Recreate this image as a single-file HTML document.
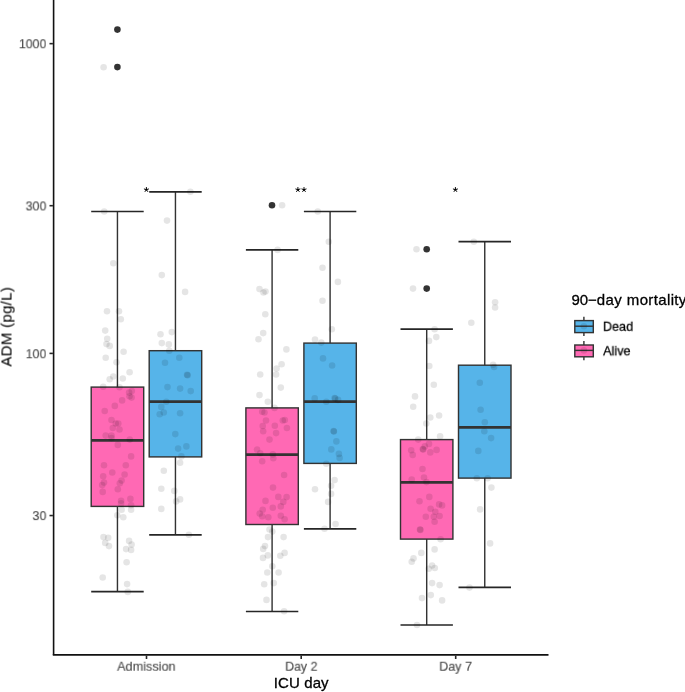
<!DOCTYPE html>
<html><head><meta charset="utf-8"><title>ADM boxplot</title>
<style>
html,body{margin:0;padding:0;background:#fff;}
body{width:685px;height:692px;position:relative;overflow:hidden;font-family:"Liberation Sans",sans-serif;}
.t{position:absolute;white-space:nowrap;line-height:1;will-change:transform;-webkit-text-stroke:0.3px currentColor;}
</style></head><body>
<svg width="685" height="692" viewBox="0 0 685 692" style="position:absolute;left:0;top:0">
<rect width="685" height="692" fill="#fff"/>
<path d="M117.45 211.5V591.6" stroke="#333333" stroke-width="1.42" fill="none"/>
<path d="M91.20 211.5H143.70M91.20 591.6H143.70" stroke="#262626" stroke-width="1.7" fill="none"/>
<path d="M175.45 191.9V534.8" stroke="#333333" stroke-width="1.42" fill="none"/>
<path d="M149.20 191.9H201.70M149.20 534.8H201.70" stroke="#262626" stroke-width="1.7" fill="none"/>
<path d="M272.10 249.9V611.5" stroke="#333333" stroke-width="1.42" fill="none"/>
<path d="M245.90 249.9H298.30M245.90 611.5H298.30" stroke="#262626" stroke-width="1.7" fill="none"/>
<path d="M330.10 211.5V528.8" stroke="#333333" stroke-width="1.42" fill="none"/>
<path d="M303.90 211.5H356.30M303.90 528.8H356.30" stroke="#262626" stroke-width="1.7" fill="none"/>
<path d="M426.70 329.1V625.0" stroke="#333333" stroke-width="1.42" fill="none"/>
<path d="M400.50 329.1H452.90M400.50 625.0H452.90" stroke="#262626" stroke-width="1.7" fill="none"/>
<path d="M484.75 241.7V587.3" stroke="#333333" stroke-width="1.42" fill="none"/>
<path d="M458.50 241.7H511.00M458.50 587.3H511.00" stroke="#262626" stroke-width="1.7" fill="none"/>
<rect x="91.2" y="387.1" width="52.50" height="119.30" fill="#FF69B4" stroke="#333333" stroke-width="1.42" stroke-linejoin="miter"/>
<path d="M91.2 440.4H143.7" stroke="#333333" stroke-width="2.84"/>
<rect x="149.2" y="350.7" width="52.50" height="106.20" fill="#56B4E9" stroke="#333333" stroke-width="1.42" stroke-linejoin="miter"/>
<path d="M149.2 401.7H201.7" stroke="#333333" stroke-width="2.84"/>
<rect x="245.9" y="407.9" width="52.40" height="116.60" fill="#FF69B4" stroke="#333333" stroke-width="1.42" stroke-linejoin="miter"/>
<path d="M245.9 454.6H298.3" stroke="#333333" stroke-width="2.84"/>
<rect x="303.9" y="343.1" width="52.40" height="120.30" fill="#56B4E9" stroke="#333333" stroke-width="1.42" stroke-linejoin="miter"/>
<path d="M303.9 401.65H356.3" stroke="#333333" stroke-width="2.84"/>
<rect x="400.5" y="439.6" width="52.40" height="99.50" fill="#FF69B4" stroke="#333333" stroke-width="1.42" stroke-linejoin="miter"/>
<path d="M400.5 482.4H452.9" stroke="#333333" stroke-width="2.84"/>
<rect x="458.5" y="365.2" width="52.50" height="112.90" fill="#56B4E9" stroke="#333333" stroke-width="1.42" stroke-linejoin="miter"/>
<path d="M458.5 427.3H511.0" stroke="#333333" stroke-width="2.84"/>
<circle cx="117.4" cy="29.6" r="3.3" fill="#333333"/>
<circle cx="117.4" cy="67.1" r="3.3" fill="#333333"/>
<circle cx="272.0" cy="205.2" r="3.3" fill="#333333"/>
<circle cx="426.7" cy="249.2" r="3.3" fill="#333333"/>
<circle cx="426.7" cy="288.6" r="3.3" fill="#333333"/>
<g fill="#000" fill-opacity="0.1">
<circle cx="103.6" cy="67.2" r="3.3"/>
<circle cx="104.2" cy="211.5" r="3.3"/>
<circle cx="113.3" cy="263.3" r="3.3"/>
<circle cx="107.0" cy="311.3" r="3.3"/>
<circle cx="119.0" cy="311.3" r="3.3"/>
<circle cx="120.8" cy="319.3" r="3.3"/>
<circle cx="105.2" cy="330.6" r="3.3"/>
<circle cx="107.2" cy="338.8" r="3.3"/>
<circle cx="106.5" cy="344.1" r="3.3"/>
<circle cx="109.7" cy="345.9" r="3.3"/>
<circle cx="123.6" cy="351.7" r="3.3"/>
<circle cx="105.7" cy="357.7" r="3.3"/>
<circle cx="116.5" cy="362.2" r="3.3"/>
<circle cx="129.6" cy="372.3" r="3.3"/>
<circle cx="113.3" cy="376.5" r="3.3"/>
<circle cx="109.7" cy="379.3" r="3.3"/>
<circle cx="122.8" cy="378.5" r="3.3"/>
<circle cx="103.2" cy="386.8" r="3.3"/>
<circle cx="119.5" cy="387.3" r="3.3"/>
<circle cx="129.1" cy="392.6" r="3.3"/>
<circle cx="131.6" cy="397.6" r="3.3"/>
<circle cx="131.8" cy="391.1" r="3.3"/>
<circle cx="129.5" cy="396.3" r="3.3"/>
<circle cx="122.1" cy="400.4" r="3.3"/>
<circle cx="114.8" cy="405.9" r="3.3"/>
<circle cx="104.7" cy="411" r="3.3"/>
<circle cx="111.5" cy="420" r="3.3"/>
<circle cx="115.8" cy="423.5" r="3.3"/>
<circle cx="118.3" cy="423.5" r="3.3"/>
<circle cx="112.8" cy="428" r="3.3"/>
<circle cx="119.5" cy="429.5" r="3.3"/>
<circle cx="105.7" cy="435.6" r="3.3"/>
<circle cx="111.5" cy="435.6" r="3.3"/>
<circle cx="111.5" cy="438.1" r="3.3"/>
<circle cx="129.8" cy="439.6" r="3.3"/>
<circle cx="117.8" cy="444.9" r="3.3"/>
<circle cx="131.1" cy="456.4" r="3.3"/>
<circle cx="104.0" cy="465.2" r="3.3"/>
<circle cx="125.8" cy="465.2" r="3.3"/>
<circle cx="103.2" cy="476.3" r="3.3"/>
<circle cx="112.3" cy="472.5" r="3.3"/>
<circle cx="124.6" cy="474.5" r="3.3"/>
<circle cx="104" cy="482.6" r="3.3"/>
<circle cx="102.2" cy="485.1" r="3.3"/>
<circle cx="121.6" cy="480.6" r="3.3"/>
<circle cx="119.8" cy="483.3" r="3.3"/>
<circle cx="117.8" cy="489.3" r="3.3"/>
<circle cx="102.7" cy="491.9" r="3.3"/>
<circle cx="130.4" cy="498.9" r="3.3"/>
<circle cx="121.1" cy="500.7" r="3.3"/>
<circle cx="121.1" cy="503.4" r="3.3"/>
<circle cx="131.1" cy="505.2" r="3.3"/>
<circle cx="131.1" cy="509.7" r="3.3"/>
<circle cx="121.6" cy="509.7" r="3.3"/>
<circle cx="117.3" cy="515.2" r="3.3"/>
<circle cx="123.3" cy="517.2" r="3.3"/>
<circle cx="103.5" cy="537.1" r="3.3"/>
<circle cx="108.2" cy="537.8" r="3.3"/>
<circle cx="105.2" cy="542.9" r="3.3"/>
<circle cx="109.0" cy="546.1" r="3.3"/>
<circle cx="129.1" cy="540.9" r="3.3"/>
<circle cx="131.6" cy="544.6" r="3.3"/>
<circle cx="126.1" cy="549.1" r="3.3"/>
<circle cx="131.1" cy="549.9" r="3.3"/>
<circle cx="126.6" cy="562.2" r="3.3"/>
<circle cx="102.7" cy="577.5" r="3.3"/>
<circle cx="127.1" cy="584.1" r="3.3"/>
<circle cx="127.8" cy="591.9" r="3.3"/>
<circle cx="190.4" cy="191.7" r="3.3"/>
<circle cx="167.0" cy="220.6" r="3.3"/>
<circle cx="161.8" cy="275.1" r="3.3"/>
<circle cx="185.1" cy="291.9" r="3.3"/>
<circle cx="160.5" cy="334.3" r="3.3"/>
<circle cx="171.8" cy="332.1" r="3.3"/>
<circle cx="161.8" cy="343.1" r="3.3"/>
<circle cx="168.8" cy="344.4" r="3.3"/>
<circle cx="169.3" cy="350.7" r="3.3"/>
<circle cx="179.3" cy="357.7" r="3.3"/>
<circle cx="165.0" cy="362.7" r="3.3"/>
<circle cx="187.1" cy="374.8" r="3.3"/>
<circle cx="187.6" cy="375.3" r="3.3"/>
<circle cx="167.5" cy="387.1" r="3.3"/>
<circle cx="180.1" cy="388.6" r="3.3"/>
<circle cx="190.7" cy="391.1" r="3.3"/>
<circle cx="166.3" cy="401.7" r="3.3"/>
<circle cx="161.3" cy="406.9" r="3.3"/>
<circle cx="163.8" cy="412.5" r="3.3"/>
<circle cx="159.7" cy="414.2" r="3.3"/>
<circle cx="180.1" cy="413.2" r="3.3"/>
<circle cx="175.3" cy="434.1" r="3.3"/>
<circle cx="186.4" cy="446.4" r="3.3"/>
<circle cx="178.1" cy="448.6" r="3.3"/>
<circle cx="181.4" cy="456.4" r="3.3"/>
<circle cx="180.1" cy="462.7" r="3.3"/>
<circle cx="163.8" cy="470.8" r="3.3"/>
<circle cx="161.3" cy="488.8" r="3.3"/>
<circle cx="174.3" cy="490.9" r="3.3"/>
<circle cx="180.1" cy="499.4" r="3.3"/>
<circle cx="176.1" cy="501.4" r="3.3"/>
<circle cx="161.3" cy="508.9" r="3.3"/>
<circle cx="188.9" cy="534.8" r="3.3"/>
<circle cx="282.1" cy="205.2" r="3.3"/>
<circle cx="277.6" cy="249.9" r="3.3"/>
<circle cx="259.5" cy="289.1" r="3.3"/>
<circle cx="263.5" cy="292.5" r="3.3"/>
<circle cx="265.5" cy="291.5" r="3.3"/>
<circle cx="265.3" cy="314.3" r="3.3"/>
<circle cx="263.2" cy="333.1" r="3.3"/>
<circle cx="258.5" cy="339.3" r="3.3"/>
<circle cx="286.4" cy="349.4" r="3.3"/>
<circle cx="281.6" cy="364.2" r="3.3"/>
<circle cx="276.6" cy="368.5" r="3.3"/>
<circle cx="260.2" cy="374.5" r="3.3"/>
<circle cx="276.1" cy="374.5" r="3.3"/>
<circle cx="280.8" cy="387.6" r="3.3"/>
<circle cx="259.5" cy="395.1" r="3.3"/>
<circle cx="267.8" cy="401.7" r="3.3"/>
<circle cx="274.5" cy="407.9" r="3.3"/>
<circle cx="262.2" cy="411.7" r="3.3"/>
<circle cx="264.5" cy="412.5" r="3.3"/>
<circle cx="266.0" cy="420.5" r="3.3"/>
<circle cx="284.8" cy="420" r="3.3"/>
<circle cx="282.8" cy="420.5" r="3.3"/>
<circle cx="262.7" cy="426" r="3.3"/>
<circle cx="274.8" cy="425.8" r="3.3"/>
<circle cx="286.9" cy="428" r="3.3"/>
<circle cx="263.2" cy="431.3" r="3.3"/>
<circle cx="276.1" cy="433.1" r="3.3"/>
<circle cx="269.5" cy="439.6" r="3.3"/>
<circle cx="257" cy="449.6" r="3.3"/>
<circle cx="260.2" cy="453.2" r="3.3"/>
<circle cx="272.8" cy="454.4" r="3.3"/>
<circle cx="273.3" cy="458.2" r="3.3"/>
<circle cx="262.2" cy="461.2" r="3.3"/>
<circle cx="284.1" cy="475" r="3.3"/>
<circle cx="273" cy="487.6" r="3.3"/>
<circle cx="278.3" cy="496.9" r="3.3"/>
<circle cx="286.6" cy="497.1" r="3.3"/>
<circle cx="265.5" cy="500.9" r="3.3"/>
<circle cx="283.3" cy="501.9" r="3.3"/>
<circle cx="280.8" cy="506.4" r="3.3"/>
<circle cx="272.8" cy="507.7" r="3.3"/>
<circle cx="262.7" cy="509.7" r="3.3"/>
<circle cx="259.7" cy="513.5" r="3.3"/>
<circle cx="262.2" cy="516.2" r="3.3"/>
<circle cx="268.3" cy="517.2" r="3.3"/>
<circle cx="280.8" cy="515.7" r="3.3"/>
<circle cx="284.6" cy="519.2" r="3.3"/>
<circle cx="269.5" cy="529.5" r="3.3"/>
<circle cx="272.3" cy="531.6" r="3.3"/>
<circle cx="268" cy="537.1" r="3.3"/>
<circle cx="283.6" cy="537.1" r="3.3"/>
<circle cx="265" cy="546.1" r="3.3"/>
<circle cx="263.2" cy="548.9" r="3.3"/>
<circle cx="284.6" cy="552.9" r="3.3"/>
<circle cx="280.3" cy="555.7" r="3.3"/>
<circle cx="267.8" cy="555.4" r="3.3"/>
<circle cx="263" cy="557.9" r="3.3"/>
<circle cx="272.3" cy="566.2" r="3.3"/>
<circle cx="267.3" cy="572.5" r="3.3"/>
<circle cx="278.6" cy="572.5" r="3.3"/>
<circle cx="273.8" cy="583.1" r="3.3"/>
<circle cx="264.2" cy="584.3" r="3.3"/>
<circle cx="266.5" cy="599.9" r="3.3"/>
<circle cx="284.1" cy="611.2" r="3.3"/>
<circle cx="317.8" cy="211.5" r="3.3"/>
<circle cx="328.8" cy="241.7" r="3.3"/>
<circle cx="322.5" cy="267.8" r="3.3"/>
<circle cx="337.9" cy="281.9" r="3.3"/>
<circle cx="322.5" cy="300.7" r="3.3"/>
<circle cx="331.8" cy="329.3" r="3.3"/>
<circle cx="315" cy="339.6" r="3.3"/>
<circle cx="321.3" cy="342.6" r="3.3"/>
<circle cx="323.0" cy="358.4" r="3.3"/>
<circle cx="332.1" cy="365.5" r="3.3"/>
<circle cx="314.7" cy="398.4" r="3.3"/>
<circle cx="326.3" cy="401.7" r="3.3"/>
<circle cx="334.6" cy="398.1" r="3.3"/>
<circle cx="335.2" cy="398.6" r="3.3"/>
<circle cx="338.1" cy="399.9" r="3.3"/>
<circle cx="333.6" cy="431.1" r="3.3"/>
<circle cx="333.9" cy="431.5" r="3.3"/>
<circle cx="336.4" cy="441.4" r="3.3"/>
<circle cx="331.3" cy="449.4" r="3.3"/>
<circle cx="338.9" cy="453.9" r="3.3"/>
<circle cx="339.6" cy="457.9" r="3.3"/>
<circle cx="326.3" cy="463.7" r="3.3"/>
<circle cx="334.6" cy="480.1" r="3.3"/>
<circle cx="331.1" cy="485.8" r="3.3"/>
<circle cx="315" cy="489.3" r="3.3"/>
<circle cx="331.1" cy="493.9" r="3.3"/>
<circle cx="328.1" cy="501.9" r="3.3"/>
<circle cx="335.6" cy="524" r="3.3"/>
<circle cx="324.5" cy="528.8" r="3.3"/>
<circle cx="416.5" cy="249.2" r="3.3"/>
<circle cx="413" cy="288.6" r="3.3"/>
<circle cx="434.6" cy="329.3" r="3.3"/>
<circle cx="436.3" cy="337.1" r="3.3"/>
<circle cx="429" cy="340.9" r="3.3"/>
<circle cx="429.3" cy="366" r="3.3"/>
<circle cx="433.8" cy="384.8" r="3.3"/>
<circle cx="415" cy="396.4" r="3.3"/>
<circle cx="413.2" cy="406.7" r="3.3"/>
<circle cx="439.1" cy="415.5" r="3.3"/>
<circle cx="430.3" cy="417.5" r="3.3"/>
<circle cx="426.3" cy="423.5" r="3.3"/>
<circle cx="440.1" cy="436.3" r="3.3"/>
<circle cx="418.2" cy="439.6" r="3.3"/>
<circle cx="429" cy="443.9" r="3.3"/>
<circle cx="424.8" cy="446.4" r="3.3"/>
<circle cx="422.8" cy="449.1" r="3.3"/>
<circle cx="423.2" cy="449.5" r="3.3"/>
<circle cx="411.2" cy="450.2" r="3.3"/>
<circle cx="436.6" cy="449.9" r="3.3"/>
<circle cx="430.3" cy="452.4" r="3.3"/>
<circle cx="412.7" cy="454.9" r="3.3"/>
<circle cx="422.5" cy="469" r="3.3"/>
<circle cx="424" cy="477.5" r="3.3"/>
<circle cx="411.7" cy="479.5" r="3.3"/>
<circle cx="426.5" cy="482.1" r="3.3"/>
<circle cx="429.3" cy="496.9" r="3.3"/>
<circle cx="419.5" cy="501.2" r="3.3"/>
<circle cx="439.1" cy="504.4" r="3.3"/>
<circle cx="442.1" cy="505.4" r="3.3"/>
<circle cx="430.6" cy="508.7" r="3.3"/>
<circle cx="435.3" cy="511.7" r="3.3"/>
<circle cx="425.8" cy="516.7" r="3.3"/>
<circle cx="433.8" cy="516.7" r="3.3"/>
<circle cx="439.6" cy="516" r="3.3"/>
<circle cx="434.6" cy="521.8" r="3.3"/>
<circle cx="420" cy="529.5" r="3.3"/>
<circle cx="420.4" cy="529.9" r="3.3"/>
<circle cx="440.6" cy="539.3" r="3.3"/>
<circle cx="434.6" cy="549.4" r="3.3"/>
<circle cx="421.3" cy="552.9" r="3.3"/>
<circle cx="413.5" cy="558.4" r="3.3"/>
<circle cx="411.7" cy="561.7" r="3.3"/>
<circle cx="432.1" cy="565.5" r="3.3"/>
<circle cx="434.8" cy="568" r="3.3"/>
<circle cx="428.8" cy="568.7" r="3.3"/>
<circle cx="432.1" cy="583.1" r="3.3"/>
<circle cx="439.6" cy="585.1" r="3.3"/>
<circle cx="430.8" cy="595.1" r="3.3"/>
<circle cx="422" cy="598.1" r="3.3"/>
<circle cx="442.1" cy="600.4" r="3.3"/>
<circle cx="417" cy="625" r="3.3"/>
<circle cx="473.8" cy="241.7" r="3.3"/>
<circle cx="495.1" cy="302.2" r="3.3"/>
<circle cx="495.1" cy="307.5" r="3.3"/>
<circle cx="471.3" cy="322.8" r="3.3"/>
<circle cx="493.1" cy="364.7" r="3.3"/>
<circle cx="494.1" cy="367" r="3.3"/>
<circle cx="479.8" cy="382.8" r="3.3"/>
<circle cx="480.6" cy="409.7" r="3.3"/>
<circle cx="484.8" cy="422.3" r="3.3"/>
<circle cx="484.3" cy="431.3" r="3.3"/>
<circle cx="491.1" cy="438.1" r="3.3"/>
<circle cx="478.3" cy="450.9" r="3.3"/>
<circle cx="476.8" cy="478.3" r="3.3"/>
<circle cx="487.6" cy="478.3" r="3.3"/>
<circle cx="491.4" cy="487.6" r="3.3"/>
<circle cx="480.1" cy="509.4" r="3.3"/>
<circle cx="490.1" cy="543.4" r="3.3"/>
<circle cx="469.5" cy="587.6" r="3.3"/>
</g>
<path d="M146.40 189.70L146.40 187.10M146.40 189.70L148.87 188.90M146.40 189.70L147.93 191.80M146.40 189.70L144.87 191.80M146.40 189.70L143.93 188.90" stroke="#000" stroke-width="1.0" fill="none"/><circle cx="146.40" cy="189.70" r="0.8" fill="#000"/>
<path d="M297.90 189.70L297.90 187.10M297.90 189.70L300.37 188.90M297.90 189.70L299.43 191.80M297.90 189.70L296.37 191.80M297.90 189.70L295.43 188.90" stroke="#000" stroke-width="1.0" fill="none"/><circle cx="297.90" cy="189.70" r="0.8" fill="#000"/>
<path d="M304.00 189.70L304.00 187.10M304.00 189.70L306.47 188.90M304.00 189.70L305.53 191.80M304.00 189.70L302.47 191.80M304.00 189.70L301.53 188.90" stroke="#000" stroke-width="1.0" fill="none"/><circle cx="304.00" cy="189.70" r="0.8" fill="#000"/>
<path d="M455.40 189.70L455.40 187.10M455.40 189.70L457.87 188.90M455.40 189.70L456.93 191.80M455.40 189.70L453.87 191.80M455.40 189.70L452.93 188.90" stroke="#000" stroke-width="1.0" fill="none"/><circle cx="455.40" cy="189.70" r="0.8" fill="#000"/>
<path d="M53.6 0V654.9" stroke="#111" stroke-width="1.6" fill="none"/>
<path d="M52.8 654.9H548.5" stroke="#111" stroke-width="1.6" fill="none"/>
<path d="M49.5 43.65H52.9" stroke="#262626" stroke-width="1.6"/>
<path d="M49.5 205.7H52.9" stroke="#262626" stroke-width="1.6"/>
<path d="M49.5 353.4H52.9" stroke="#262626" stroke-width="1.6"/>
<path d="M49.5 515.55H52.9" stroke="#262626" stroke-width="1.6"/>
<path d="M146.5 655.6V659.0" stroke="#262626" stroke-width="1.6"/>
<path d="M301.2 655.6V659.0" stroke="#262626" stroke-width="1.6"/>
<path d="M455.7 655.6V659.0" stroke="#262626" stroke-width="1.6"/>
<path d="M583.9 316.70V320.6M583.9 332.6V336.10" stroke="#333333" stroke-width="1.42"/>
<rect x="574.8" y="320.6" width="18.5" height="12.00" fill="#56B4E9" stroke="#333333" stroke-width="1.42"/>
<path d="M574.8 326.2H593.3" stroke="#333333" stroke-width="1.42"/>
<circle cx="583.9" cy="326.2" r="3.3" fill="#000" fill-opacity="0.1"/>
<path d="M583.9 341.10V345.0M583.9 356.8V360.30" stroke="#333333" stroke-width="1.42"/>
<rect x="574.8" y="345.0" width="18.5" height="11.80" fill="#FF69B4" stroke="#333333" stroke-width="1.42"/>
<path d="M574.8 350.4H593.3" stroke="#333333" stroke-width="1.42"/>
<circle cx="583.9" cy="350.4" r="3.3" fill="#000" fill-opacity="0.1"/>
</svg>
<div class="t" style="left:-94px;top:37px;width:140px;text-align:right;font-size:13.2px;color:#4d4d4d;transform-origin:100% 50%;transform:translate(0.30px,0.20px) scaleX(0.935);-webkit-text-stroke:0.15px #4d4d4d;">1000</div>
<div class="t" style="left:-94px;top:199px;width:140px;text-align:right;font-size:13.2px;color:#4d4d4d;transform-origin:100% 50%;transform:translate(0.30px,0.40px) scaleX(0.935);-webkit-text-stroke:0.15px #4d4d4d;">300</div>
<div class="t" style="left:-94px;top:347px;width:140px;text-align:right;font-size:13.2px;color:#4d4d4d;transform-origin:100% 50%;transform:translate(0.30px,0.20px) scaleX(0.935);-webkit-text-stroke:0.15px #4d4d4d;">100</div>
<div class="t" style="left:-94px;top:509px;width:140px;text-align:right;font-size:13.2px;color:#4d4d4d;transform-origin:100% 50%;transform:translate(0.30px,0.10px) scaleX(0.935);-webkit-text-stroke:0.15px #4d4d4d;">30</div>
<div class="t" style="left:76px;top:659px;width:140px;text-align:center;font-size:13.2px;color:#4d4d4d;transform-origin:50% 50%;transform:translate(0.40px,0.70px) scaleX(0.96);-webkit-text-stroke:0.15px #4d4d4d;">Admission</div>
<div class="t" style="left:231px;top:659px;width:140px;text-align:center;font-size:13.2px;color:#4d4d4d;transform-origin:50% 50%;transform:translate(0.30px,0.70px) scaleX(0.935);-webkit-text-stroke:0.15px #4d4d4d;">Day 2</div>
<div class="t" style="left:385px;top:659px;width:140px;text-align:center;font-size:13.2px;color:#4d4d4d;transform-origin:50% 50%;transform:translate(0.60px,0.70px) scaleX(0.95);-webkit-text-stroke:0.15px #4d4d4d;">Day 7</div>
<div class="t" style="left:273px;top:675px;width:140px;text-align:left;font-size:15.0px;color:#000;transform-origin:0 50%;transform:translate(0.80px,0.20px);letter-spacing:0.1px;">ICU day</div>
<div class="t" style="left:0;top:0;font-size:15.0px;color:#000;transform-origin:0 0;transform:translate(-1.5px,366.6px) rotate(-90deg);letter-spacing:0.3px;-webkit-text-stroke:0.05px #000">ADM (pg/L)</div>
<div class="t" style="left:571px;top:291px;width:140px;text-align:left;font-size:15.0px;color:#000;transform-origin:0 50%;transform:translate(0.40px,0.50px);">90&#8722;<span style="letter-spacing:0.4px">day </span><span style="letter-spacing:0.36px">mortality</span></div>
<div class="t" style="left:602px;top:319px;width:140px;text-align:left;font-size:13.2px;color:#000;transform-origin:0 50%;transform:translate(0.90px,0.80px) scaleX(0.96);">Dead</div>
<div class="t" style="left:603px;top:344px;width:140px;text-align:left;font-size:13.2px;color:#000;transform-origin:0 50%;transform:translate(0.10px,0.30px) scaleX(0.96);">Alive</div>
</body></html>
